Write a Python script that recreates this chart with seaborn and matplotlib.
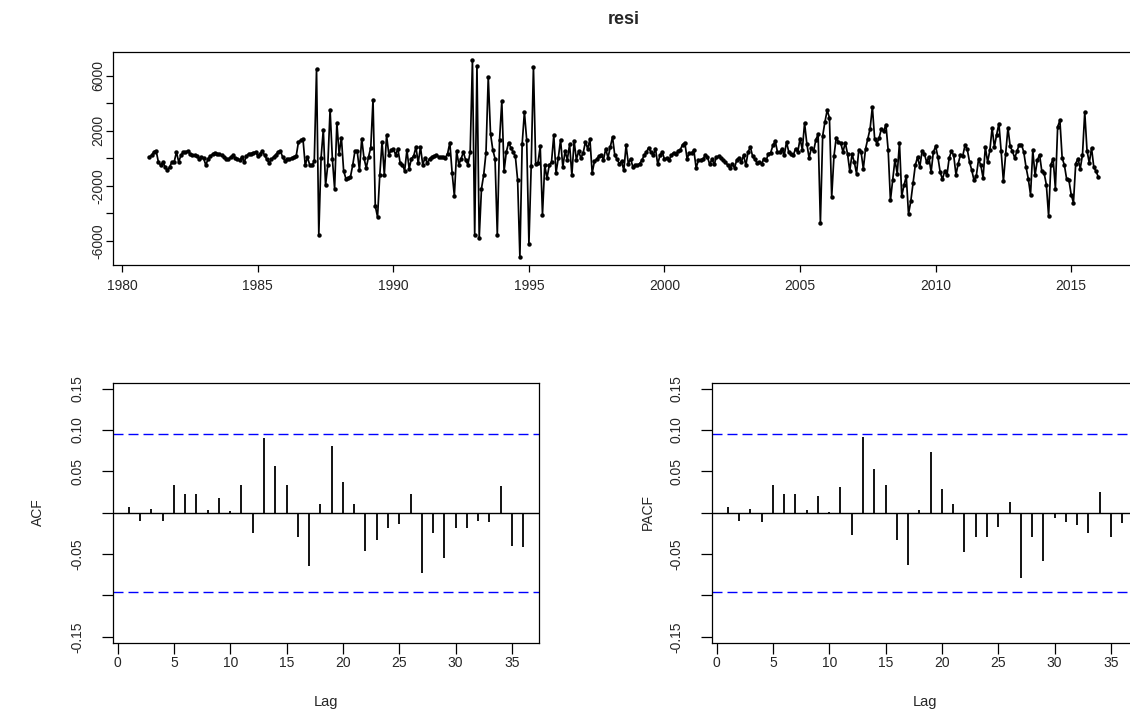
import numpy as np
import pandas as pd
import matplotlib
matplotlib.use("Agg")
import matplotlib.pyplot as plt
import seaborn as sns

# ---------------- data ----------------
start_year = 1981
frequency = 12

resi_1981_1986 = [97, 218, 460, 557, -267, -509, -267, -630, -873, -630, -267, -267,
                  460, -267, 218, 460, 460, 533, 339, 218, 218, 145, -24, 97,
                  24, -509, -24, 170, 291, 412, 339, 291, 218, 121, -24, -73,
                  97, 218, 24, -73, -121, 97, -267, 170, 339, 339, 412, 460,
                  170, 339, 533, 218, -73, -339, -73, 97, 267, 460, 533, 97,
                  -194, -73, -73, 24, 97, 170, 1188, 1309, 1400]
resi_1986_1992 = [-509, 97, -509, -509, -218, 6472, -5551, 24, 2085, -1963,
                  -461, 3539, -24, -2206, 2569, 339, 1503, -921, -1479, -1406,
                  -1357, -509, 533, 509, -873, 1430, 24, -703, 97, 776,
                  4266, -3466, -4266, -1188, 1188, -1188, 1673, 267, 582, 654,
                  267, 703, -339, -461, -897, 582, -751, -24, 170, 824,
                  -339, 824, -461, 24, -339, -24, 97, 170, 218, 120,
                  60, 73, 48, 339, 1139, -1042, -2739, 509, -461, -24, 460]
resi_1992_1998 = [-145, -461, 460, 7127, -5600, 6715, -5793, -2206, -1188, 412,
                  5915, 1794, 630, -24, -5551, 1357, 4145, -921, 460, 1139,
                  776, 460, 145, -1576, -7175, 1018, 3369, 1357, -6205, -582,
                  6642, -436, -339, 873, -4097, -509, -1430, -509, -267, 1673,
                  -1067, 24, 1357, -630, 509, -97, 1018, -1236, 1260, -97, 509,
                  24, 388, 1188, 703, 1382, -1067, -218, -73,
                  170, 218, -97, 703, 24, 824, 1551, 218, -73, -388, -218, -873]
resi_1998_2004 = [945, -388, -24, -630, -509, -509, -388, -145, 218,
                  460, 776, 460, 218, 703, -436, 218, 460, -73, 24, -145,
                  218, 412, 291, 533, 630, 994, 1139, -24, 388, 412, 582, -703, -145, -97, -73, 218,
                  97, -436, -73, -436, 97, 145, 24,
                  -145, -267, -509, -703, -388, -703, -97, 48, -267, 218, -509, 460, 824, 145, -73,
                  -339, -267, -388, -24, -145, 339, 412, 945, 1260, 460, 460, 703, 218]
resi_2004_2010 = [1188, 460, 300, 218, 703, 460, 1430, 630, 2569, 1067,
                  24, 751, 509, 1357, 1745, -4678, 1624, 2642, 3491, 2957,
                  -2812, 145, 1503, 1188, 1115, 460, 1139, 339, -921, 291,
                  -267, -1115, 630, 460, -751, 703, 1430, 2157, 3733, 1430,
                  1067, 1479, 2157, 1963, 2448, 582, -3054, -1600, -97, -1115,
                  1115, -2739, -1963, -1309, -4048, -3127, -1794, -509, 97, -630,
                  509, 339, -267, 97, -994, 460, 873, 97, -994, -1527]
resi_2010_2016 = [-945, -1236, 24, 509, 218, -1188, -388, 267, 170, 945,
                  654, -267, -873, -1600, -1285, -73, -509, -1430, 824, -267,
                  582, 2206, 824, 1721, 2521, 509, -1673, 339, 2206, 873,
                  509, 24, 509, 994, 994, 460, -630, -1479, -2642, 582,
                  -1236, -145, 267, -945, -1067, -1915, -4194, -461, -24, -2206,
                  2279, 2763, 24, -509, -1527, -1600, -2642, -3224, -388, -24,
                  -751, 267, 3369, 558, -339, 751, -630, -945, -1357]

acf_lags = list(range(1, 37))
acf_vals = [0.007, -0.010, 0.004, -0.010, 0.034, 0.023, 0.023, 0.003, 0.018, 0.002,
            0.033, -0.025, 0.090, 0.056, 0.033, -0.029, -0.065, 0.010, 0.080, 0.037,
            0.010, -0.046, -0.033, -0.018, -0.014, 0.023, -0.073, -0.024, -0.055, -0.019,
            -0.019, -0.010, -0.011, 0.032, -0.040, -0.041]
pacf_vals = [0.007, -0.010, 0.004, -0.011, 0.034, 0.022, 0.023, 0.003, 0.020, 0.001,
             0.031, -0.027, 0.091, 0.053, 0.034, -0.033, -0.063, 0.003, 0.073, 0.028,
             0.010, -0.048, -0.030, -0.029, -0.017, 0.0125, -0.079, -0.030, -0.059, -0.007,
             -0.011, -0.015, -0.025, 0.025, -0.029, -0.013]
conf_limit = 0.0955

title = "resi"
year_ticks = [1980, 1985, 1990, 1995, 2000, 2005, 2010, 2015]
resi_ticks = [-6000, -4000, -2000, 0, 2000, 4000, 6000]
resi_tick_labels = ["-6000", "", "-2000", "", "2000", "", "6000"]
lag_ticks = [0, 5, 10, 15, 20, 25, 30, 35]
corr_ticks = [-0.15, -0.10, -0.05, 0.0, 0.05, 0.10, 0.15]
corr_tick_labels = ["-0.15", "", "-0.05", "", "0.05", "0.10", "0.15"]

# ---------------- figure ----------------
sns.set_style("ticks")
plt.rcParams['font.family'] = ['Liberation Sans', 'DejaVu Sans']

W, H = 1130, 716
fig = plt.figure(figsize=(W / 100, H / 100), dpi=100)
fig.patch.set_facecolor("white")


def ax_px(l, t, r, b):
    return fig.add_axes([l / W, 1 - b / H, (r - l) / W, (b - t) / H])


def style_box(ax):
    for s in ax.spines.values():
        s.set_visible(True)
        s.set_color("black")
        s.set_linewidth(0.9)
    ax.set_facecolor("white")
    ax.grid(False)


resi = resi_1981_1986 + resi_1986_1992 + resi_1992_1998 + resi_1998_2004 + resi_2004_2010 + resi_2010_2016
time = start_year + np.arange(len(resi)) / frequency
df = pd.DataFrame({"time": time, "resi": resi})

# top: time series
ax1 = ax_px(113, 52, 1136, 265)
sns.lineplot(data=df, x="time", y="resi", ax=ax1, color="black", linewidth=1.25,
             marker="o", markersize=3.2, markeredgewidth=0, markerfacecolor="black")
style_box(ax1)
ax1.set_xlim(1979.66, 2017.39)
ax1.set_ylim(-7760, 7731)
ax1.set_xticks(year_ticks)
ax1.set_xticklabels([str(y) for y in year_ticks])
ax1.set_yticks(resi_ticks)
ax1.set_yticklabels(resi_tick_labels, rotation=90, va="center")
ax1.tick_params(axis="both", direction="out", length=5, width=0.9, labelsize=10, color="black")
ax1.tick_params(axis="x", pad=5)
ax1.tick_params(axis="y", pad=0.5)
ax1.set_xlabel("")
ax1.set_ylabel("")
fig.text(624 / W, 1 - 20 / H, title, ha="center", va="center", fontsize=13, fontweight="bold")


def corr_panel(l, r, vals, ylabel, label_x):
    ax = ax_px(l, 383, r, 643)
    dfc = pd.DataFrame({"lag": acf_lags, "value": vals})
    ax.axhline(0, color="black", linewidth=1.0)
    ax.vlines(dfc["lag"], 0, dfc["value"], color="black", linewidth=1.3)
    for c in (conf_limit, -conf_limit):
        ax.axhline(c, color="#0000ff", linewidth=1.0, linestyle=(0, (7.2, 3.6)))
    style_box(ax)
    ax.set_xlim(-0.4, 37.4)
    ax.set_ylim(-0.1575, 0.1567)
    ax.set_xticks(lag_ticks)
    ax.set_xticklabels([str(t) for t in lag_ticks])
    ax.set_yticks(corr_ticks)
    ax.set_yticklabels(corr_tick_labels, rotation=90, va="center")
    ax.tick_params(axis="both", direction="out", length=8, width=0.9, labelsize=10, color="black")
    ax.tick_params(axis="x", pad=1.5)
    ax.tick_params(axis="y", pad=12.5)
    ax.set_xlabel("Lag", fontsize=10.5, labelpad=18)
    ax.set_ylabel("")
    fig.text(label_x / W, 1 - 512 / H, ylabel, rotation=90, ha="center", va="center", fontsize=10)
    return ax


corr_panel(113, 539, acf_vals, "ACF", 38)
corr_panel(712, 1138, pacf_vals, "PACF", 648)

fig.savefig("out.png", dpi=100, facecolor="white")
